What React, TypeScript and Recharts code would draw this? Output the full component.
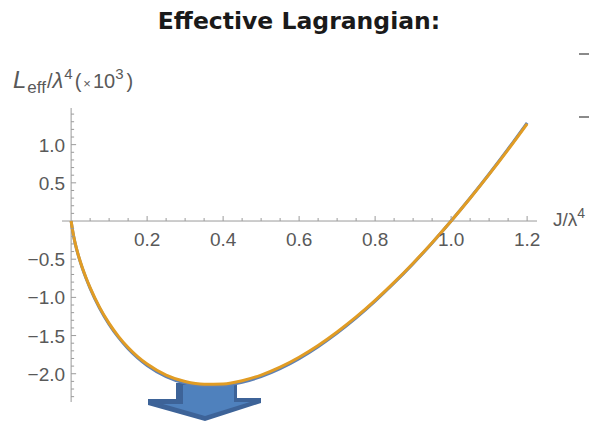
import { LineChart, Line, XAxis, YAxis, ReferenceLine, ReferenceDot } from 'recharts';

// J / λ^4 sample points
const jValues = [
  0, 0.005, 0.01, 0.02, 0.03, 0.04, 0.05, 0.075, 0.1, 0.125, 0.15, 0.175, 0.2, 0.25, 0.3, 0.35,
  0.4, 0.45, 0.5, 0.55, 0.6, 0.65, 0.7, 0.75, 0.8, 0.85, 0.9, 0.95, 1.0, 1.05, 1.1, 1.15, 1.2,
];

// L_eff / λ^4 (×10^3), numerical result
const leffNumeric = [
  0, -0.156, -0.28, -0.47, -0.625, -0.76, -0.881, -1.142, -1.353, -1.528, -1.673, -1.793, -1.892,
  -2.037, -2.123, -2.159, -2.154, -2.112, -2.037, -1.933, -1.802, -1.646, -1.468, -1.269, -1.049,
  -0.812, -0.558, -0.287, 0, 0.301, 0.616, 0.944, 1.286,
];

// L_eff / λ^4 (×10^3), approximation
const leffApprox = [
  0, -0.154, -0.277, -0.465, -0.619, -0.752, -0.872, -1.131, -1.34, -1.513, -1.656, -1.775, -1.873,
  -2.017, -2.102, -2.138, -2.133, -2.091, -2.017, -1.914, -1.784, -1.63, -1.453, -1.256, -1.039,
  -0.804, -0.552, -0.284, 0, 0.298, 0.61, 0.935, 1.273,
];

const xMajorTicks = [0.2, 0.4, 0.6, 0.8, 1.0, 1.2];
const xTickLabels = ['0.2', '0.4', '0.6', '0.8', '1.0', '1.2'];
const xMinorTicks = [
  0.05, 0.1, 0.15, 0.25, 0.3, 0.35, 0.45, 0.5, 0.55, 0.65, 0.7, 0.75, 0.85, 0.9, 0.95, 1.05, 1.1, 1.15,
];

const yMajorTicks = [-2.0, -1.5, -1.0, -0.5, 0.5, 1.0];
const yTickLabels = ['\u22122.0', '\u22121.5', '\u22121.0', '\u22120.5', '0.5', '1.0'];
const yMinorTicks = [
  -2.3, -2.2, -2.1, -1.9, -1.8, -1.7, -1.6, -1.4, -1.3, -1.2, -1.1, -0.9, -0.8, -0.7, -0.6, -0.4,
  -0.3, -0.2, -0.1, 0.1, 0.2, 0.3, 0.4, 0.6, 0.7, 0.8, 0.9, 1.1, 1.2, 1.3, 1.4,
];

const rows = jValues.map((j, i) => ({ j, numeric: leffNumeric[i], approx: leffApprox[i] }));

const W = 589;
const H = 423;
const AXIS = '#9a9a9a';
const LABEL = '#595959';
const FONT = '"Liberation Sans", Arial, sans-serif';

type DotProps = { cx?: number; cy?: number };

const xTick = (len: number, label?: string) => (p: DotProps) => (
  <g>
    <line x1={p.cx} x2={p.cx} y1={p.cy} y2={(p.cy ?? 0) - len} stroke={AXIS} strokeWidth={1} />
    {label && (
      <text x={p.cx} y={(p.cy ?? 0) + 25} textAnchor="middle" fontFamily={FONT} fontSize={19} fill={LABEL}>
        {label}
      </text>
    )}
  </g>
);

const yTick = (len: number, label?: string) => (p: DotProps) => (
  <g>
    <line x1={p.cx} x2={(p.cx ?? 0) + len} y1={p.cy} y2={p.cy} stroke={AXIS} strokeWidth={1} />
    {label && (
      <text x={(p.cx ?? 0) - 6} y={(p.cy ?? 0) + 7} textAnchor="end" fontFamily={FONT} fontSize={19} fill={LABEL}>
        {label}
      </text>
    )}
  </g>
);

function DownArrow() {
  return (
    <svg width={W} height={H} style={{ position: 'absolute', left: 0, top: 0 }}>
      <polygon
        points="176,383 237,383 237,398 261,398 261,403 205,421 148,405 148,399 176,399"
        fill="#3d6398"
      />
      <polygon points="183,385 234,385 234,402 250,402 205,416 163,404 183,404" fill="#4f81bd" />
    </svg>
  );
}

function Annotations() {
  return (
    <svg width={W} height={H} style={{ position: 'absolute', left: 0, top: 0, pointerEvents: 'none' }}>
      <text
        x={299}
        y={29}
        textAnchor="middle"
        fontFamily='"DejaVu Sans", Verdana, sans-serif'
        fontWeight="bold"
        fontSize={23.5}
        fill="#1a1a1a"
      >
        Effective Lagrangian:
      </text>
      <text x={13} y={88} fontFamily={FONT} fontSize={20} fill={LABEL}>
        <tspan fontStyle="italic" fontSize={24}>L</tspan>
        <tspan dx={1} dy={5} fontSize={17}>eff</tspan>
        <tspan dx={1} dy={-5}>/</tspan>
        <tspan fontStyle="italic" fontSize={22}>λ</tspan>
        <tspan dx={1} dy={-9} fontSize={15}>4</tspan>
        <tspan dx={2} dy={9}>(</tspan>
        <tspan dx={2} fontSize={13}>×</tspan>
        <tspan dx={2}>10</tspan>
        <tspan dy={-9} fontSize={15}>3</tspan>
        <tspan dx={3} dy={9}>)</tspan>
      </text>
      <text x={553} y={226} fontFamily={FONT} fontSize={19} fill={LABEL}>
        J/λ
        <tspan dy={-8} fontSize={14}>4</tspan>
      </text>
      <line x1={579} x2={589} y1={54} y2={54} stroke="#8a8a8a" strokeWidth={2} />
      <line x1={579} x2={589} y1={117} y2={117} stroke="#8a8a8a" strokeWidth={2} />
    </svg>
  );
}

export default function App() {
  return (
    <div style={{ position: 'absolute', left: 0, top: 0, width: W, height: H, background: '#fff' }}>
      <DownArrow />
      <div style={{ position: 'absolute', left: 0, top: 0 }}>
        <LineChart width={W} height={H} data={rows} margin={{ top: 108, right: 52, bottom: 21, left: 62 }}>
          <XAxis dataKey="j" type="number" domain={[-0.024, 1.226]} allowDataOverflow hide />
          <YAxis type="number" domain={[-2.37, 1.48]} allowDataOverflow hide />
          <ReferenceLine y={0} stroke={AXIS} strokeWidth={1} />
          <ReferenceLine x={0} stroke={AXIS} strokeWidth={1} />
          {xMinorTicks.map((t) => (
            <ReferenceDot key={`xm${t}`} x={t} y={0} r={0} shape={xTick(3)} />
          ))}
          {xMajorTicks.map((t, i) => (
            <ReferenceDot key={`xM${t}`} x={t} y={0} r={0} shape={xTick(5, xTickLabels[i])} />
          ))}
          {yMinorTicks.map((t) => (
            <ReferenceDot key={`ym${t}`} x={0} y={t} r={0} shape={yTick(3)} />
          ))}
          {yMajorTicks.map((t, i) => (
            <ReferenceDot key={`yM${t}`} x={0} y={t} r={0} shape={yTick(5, yTickLabels[i])} />
          ))}
          <Line
            type="monotone"
            dataKey="numeric"
            stroke="#5e81b5"
            strokeWidth={3}
            dot={false}
            isAnimationActive={false}
          />
          <Line
            type="monotone"
            dataKey="approx"
            stroke="#e19c24"
            strokeWidth={3}
            dot={false}
            isAnimationActive={false}
          />
        </LineChart>
      </div>
      <Annotations />
    </div>
  );
}
